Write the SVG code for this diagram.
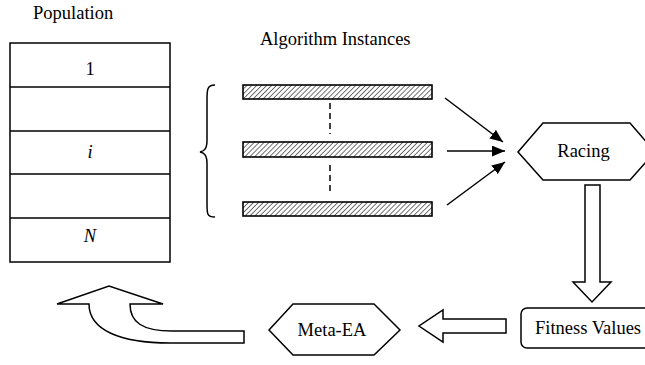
<svg xmlns="http://www.w3.org/2000/svg" width="645" height="365" viewBox="0 0 645 365">
<style>
text{font-family:"Liberation Serif","Times New Roman",serif;font-size:18.5px;fill:#000}
.ln{fill:none;stroke:#000;stroke-width:1.5}
.sh{fill:#fff;stroke:#000;stroke-width:1.5}
.bar{fill:url(#hatch);stroke:#000;stroke-width:1.6}
</style>
<defs>
<pattern id="hatch" patternUnits="userSpaceOnUse" width="3.5" height="3.5" patternTransform="rotate(45)">
<rect width="3.5" height="3.5" fill="#fff"/>
<line x1="0" y1="0" x2="0" y2="3.5" stroke="#000" stroke-width="1.1"/>
</pattern>
<marker id="ah" viewBox="0 0 12 10" refX="12" refY="5" markerWidth="13" markerHeight="11" markerUnits="userSpaceOnUse" orient="auto">
<path d="M0 0 L12 5 L0 10 Z" fill="#000"/>
</marker>
</defs>
<g id="population">
<text x="33" y="19">Population</text>
<rect class="sh" x="10" y="43" width="160" height="219"/>
<line class="ln" x1="10" y1="87" x2="170" y2="87"/>
<line class="ln" x1="10" y1="131" x2="170" y2="131"/>
<line class="ln" x1="10" y1="174" x2="170" y2="174"/>
<line class="ln" x1="10" y1="218" x2="170" y2="218"/>
<text x="90" y="75" text-anchor="middle">1</text>
<text x="90" y="158" text-anchor="middle" font-style="italic">i</text>
<text x="90" y="242" text-anchor="middle" font-style="italic">N</text>
</g>
<g id="instances">
<text x="260" y="45">Algorithm Instances</text>
<path class="ln" d="M215 85 C207 85 207 90 207 100 L207 140 C207 148 205 151 200 152 C205 153 207 156 207 164 L207 204 C207 214 207 217 215 217"/>
<rect class="bar" x="243" y="85" width="189" height="14"/>
<rect class="bar" x="243" y="142" width="189" height="15"/>
<rect class="bar" x="243" y="202" width="189" height="14"/>
<line class="ln" x1="330" y1="103" x2="330" y2="134" stroke-dasharray="6,4"/>
<line class="ln" x1="330" y1="165" x2="330" y2="193" stroke-dasharray="6,4"/>
</g>
<g id="racing">
<polygon class="sh" points="518,152 543,123 630,123 655,152 630,180 543,180"/>
<text x="583.5" y="157" text-anchor="middle">Racing</text>
</g>
<g id="fitness">
<rect class="sh" x="521" y="308" width="140" height="40" rx="6"/>
<text x="535" y="334">Fitness Values</text>
</g>
<g id="meta-ea">
<polygon class="sh" points="269,330 293,304 374,304 400,330 374,355 293,355"/>
<text x="332" y="336" text-anchor="middle">Meta-EA</text>
</g>
<g id="connectors">
<line class="ln" x1="445" y1="98" x2="503" y2="142" marker-end="url(#ah)"/>
<line class="ln" x1="447" y1="151" x2="505" y2="151" marker-end="url(#ah)"/>
<line class="ln" x1="447" y1="205" x2="505" y2="162" marker-end="url(#ah)"/>
<path class="sh" d="M585 185 L600 185 L600 282 L611 282 L592 302 L573 282 L585 282 Z"/>
<path class="sh" d="M506 319 L506 333 L443 333 L443 342 L419 326 L443 310 L443 319 Z"/>
<path class="sh" d="M89 304 L57 304 L109 286 L163 304 L130 304 C130 322 142 331 172 331 L244 331 L244 343 L170 343 C120 343 89 330 89 304 Z"/>
</g>
</svg>
